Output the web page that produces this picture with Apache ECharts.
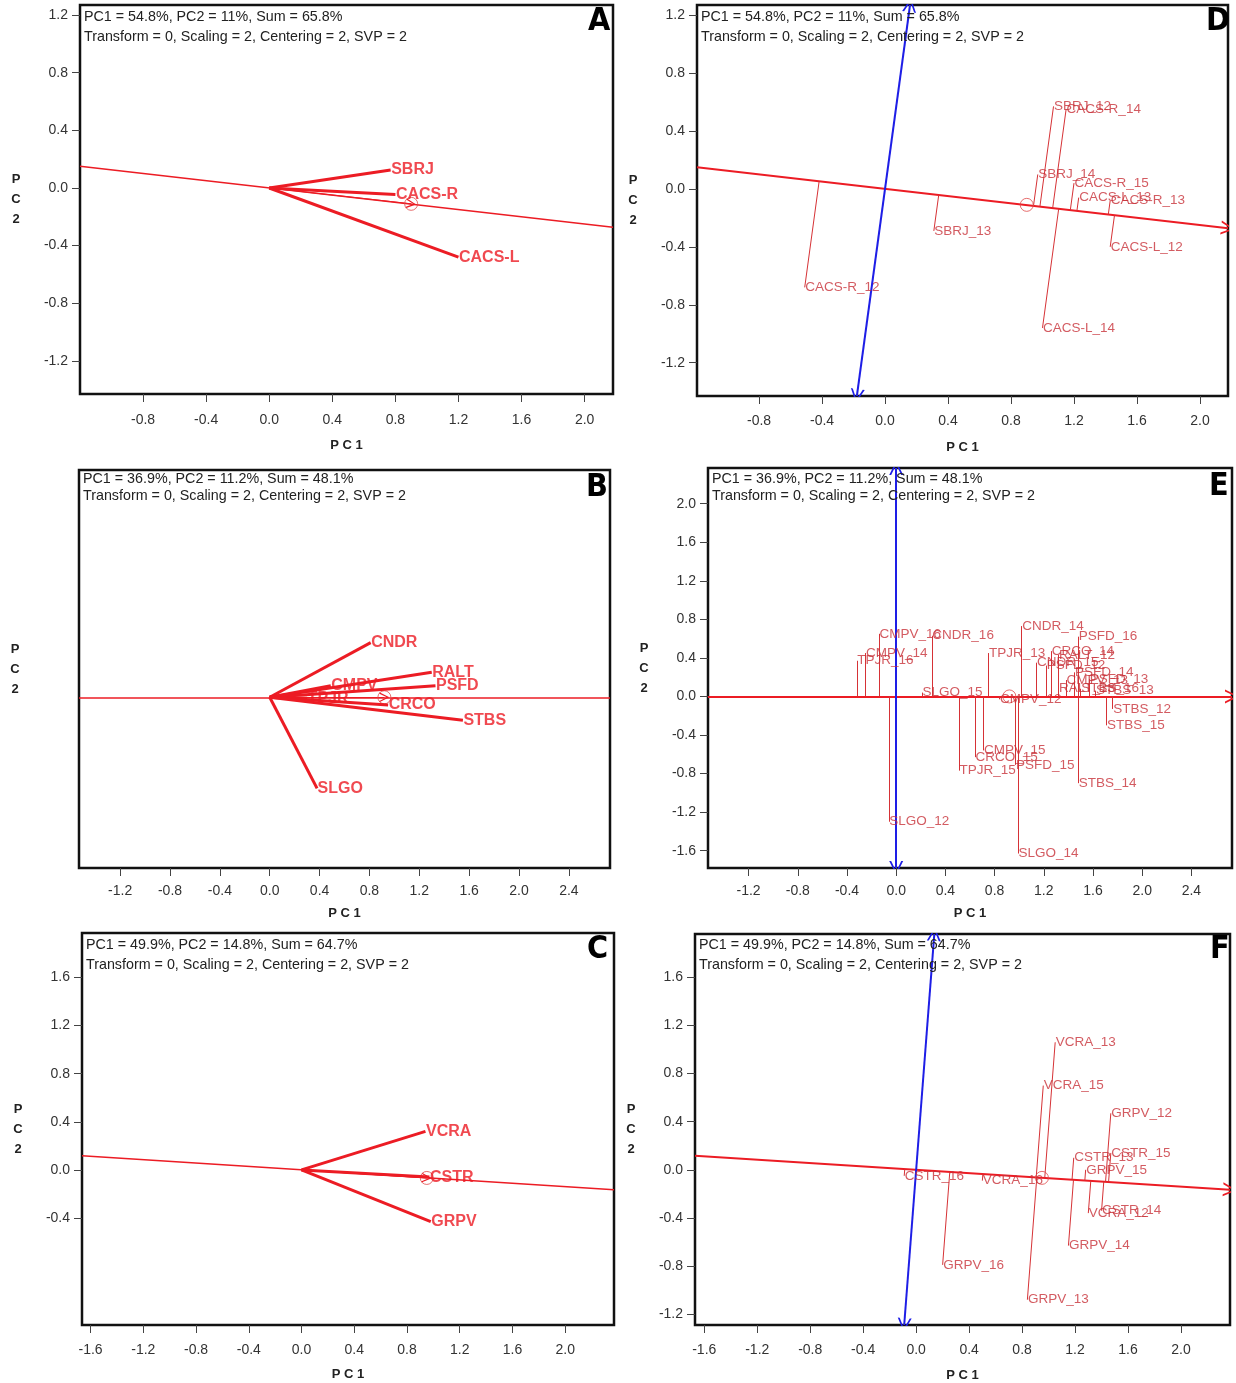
<!DOCTYPE html>
<html><head><meta charset="utf-8">
<script src="https://cdn.jsdelivr.net/npm/echarts@6/dist/echarts.min.js"></script>
<style>html,body{margin:0;padding:0;background:#fff}#c{width:1236px;height:1383px}</style>
</head><body><div id="c"></div><script>
// ---------- DATA ----------
const headerA = ['PC1 = 54.8%, PC2 = 11%, Sum = 65.8%', 'Transform = 0, Scaling = 2, Centering = 2, SVP = 2'];
const headerB = ['PC1 = 36.9%, PC2 = 11.2%, Sum = 48.1%', 'Transform = 0, Scaling = 2, Centering = 2, SVP = 2'];
const headerC = ['PC1 = 49.9%, PC2 = 14.8%, Sum = 64.7%', 'Transform = 0, Scaling = 2, Centering = 2, SVP = 2'];
const panelLetters = ['A', 'B', 'C', 'D', 'E', 'F'];

const xTicksAD = [-0.8, -0.4, 0, 0.4, 0.8, 1.2, 1.6, 2.0];
const yTicksAD = [-1.2, -0.8, -0.4, 0, 0.4, 0.8, 1.2];
const xTicksBE = [-1.2, -0.8, -0.4, 0, 0.4, 0.8, 1.2, 1.6, 2.0, 2.4];
const yTicksB = [];
const yTicksE = [-1.6, -1.2, -0.8, -0.4, 0, 0.4, 0.8, 1.2, 1.6, 2.0];
const xTicksCF = [-1.6, -1.2, -0.8, -0.4, 0, 0.4, 0.8, 1.2, 1.6, 2.0];
const yTicksC = [-0.4, 0, 0.4, 0.8, 1.2, 1.6];
const yTicksF = [-1.2, -0.8, -0.4, 0, 0.4, 0.8, 1.2, 1.6];

// average-environment axis slopes and mean markers
const aecSlopeAD = -0.125, aecSlopeBE = 0, aecSlopeCF = -0.07;
const meanAD = [0.90, -0.11];
const meanBE = [0.92, 0.0];
const meanCF = [0.95, -0.067];

// trait vectors
const traitsA = ['SBRJ', 'CACS-R', 'CACS-L'];
const traitsA_pc1 = [0.77, 0.80, 1.20];
const traitsA_pc2 = [0.125, -0.045, -0.48];

const traitsB = ['CNDR', 'RALT', 'PSFD', 'CMPV', 'TPJR', 'CRCO', 'STBS', 'SLGO'];
const traitsB_pc1 = [0.81, 1.30, 1.33, 0.49, 0.30, 0.95, 1.55, 0.38];
const traitsB_pc2 = [0.57, 0.26, 0.12, 0.12, -0.01, -0.08, -0.24, -0.95];

const traitsC = ['VCRA', 'CSTR', 'GRPV'];
const traitsC_pc1 = [0.94, 0.97, 0.98];
const traitsC_pc2 = [0.32, -0.06, -0.43];

// trait x year points
const pointsD = ['SBRJ_12', 'CACS-R_14', 'SBRJ_14', 'CACS-R_15', 'CACS-L_13', 'CACS-R_13', 'CACS-L_12', 'SBRJ_13', 'CACS-R_12', 'CACS-L_14'];
const pointsD_pc1 = [1.07, 1.15, 0.97, 1.20, 1.23, 1.43, 1.43, 0.31, -0.51, 1.00];
const pointsD_pc2 = [0.57, 0.55, 0.10, 0.04, -0.06, -0.08, -0.40, -0.29, -0.68, -0.96];

const pointsE = ['CMPV_16', 'CNDR_16', 'CMPV_14', 'TPJR_16', 'SLGO_15', 'TPJR_13', 'CNDR_14', 'PSFD_16', 'CRCO_14', 'RALT_12', 'CNDR_15', 'PSFD_12', 'PSFD_14', 'CMPV_13', 'PSFD_13', 'RALT_13', 'STBS_16', 'STBS_13', 'CMPV_12', 'STBS_12', 'STBS_15', 'CMPV_15', 'CRCO_15', 'PSFD_15', 'TPJR_15', 'STBS_14', 'SLGO_12', 'SLGO_14'];
const pointsE_pc1 = [-0.14, 0.29, -0.25, -0.32, 0.21, 0.75, 1.02, 1.48, 1.26, 1.32, 1.14, 1.22, 1.45, 1.38, 1.57, 1.32, 1.50, 1.62, 0.84, 1.76, 1.71, 0.71, 0.64, 0.97, 0.51, 1.48, -0.06, 0.99];
const pointsE_pc2 = [0.65, 0.63, 0.45, 0.37, 0.04, 0.45, 0.73, 0.62, 0.47, 0.43, 0.35, 0.32, 0.25, 0.17, 0.18, 0.08, 0.08, 0.06, -0.03, -0.13, -0.30, -0.56, -0.63, -0.71, -0.77, -0.90, -1.30, -1.63];

const pointsF = ['VCRA_13', 'VCRA_15', 'GRPV_12', 'CSTR_15', 'CSTR_13', 'GRPV_15', 'CSTR_16', 'VCRA_16', 'VCRA_12', 'CSTR_14', 'GRPV_14', 'GRPV_16', 'GRPV_13'];
const pointsF_pc1 = [1.05, 0.96, 1.47, 1.47, 1.19, 1.28, -0.09, 0.50, 1.30, 1.40, 1.15, 0.20, 0.84];
const pointsF_pc2 = [1.06, 0.70, 0.47, 0.14, 0.10, 0.00, -0.05, -0.09, -0.36, -0.34, -0.63, -0.79, -1.08];

// ---------- LAYOUT ----------
const RED = '#ec1c24', RED2 = '#d63236', TXT = '#c8323a', BLUE = '#1e1ee6';
const CHEV = 'path://M50,0 L100,100 L86,100 L50,26 L14,100 L0,100 Z';
const FONT = 'Liberation Sans';
const LETTER_FONT = 'bold 32px "DejaVu Sans Condensed", "Liberation Sans Narrow", "DejaVu Sans", sans-serif';

const panels = [
  {letter: panelLetters[0], kind: 'vec', grid: {left: 80, top: 5, width: 533, height: 389}, xr: [-1.2, 2.18], yr: [-1.43, 1.27], xt: xTicksAD, yt: yTicksAD, s: aecSlopeAD, mean: meanAD, names: traitsA, px: traitsA_pc1, py: traitsA_pc2, header: headerA, hx: 84, hy: 10, hg: 20, lx: 588, ly: 6, lm: 19, ng: 45},
  {letter: panelLetters[1], kind: 'vec', grid: {left: 79, top: 470, width: 531, height: 398}, xr: [-1.53, 2.73], yr: [-1.78, 2.37], xt: xTicksBE, yt: yTicksB, s: aecSlopeBE, mean: meanBE, names: traitsB, px: traitsB_pc1, py: traitsB_pc2, header: headerB, hx: 83, hy: 472, hg: 17, lx: 586, ly: 472, lm: 16, ng: 39},
  {letter: panelLetters[2], kind: 'vec', grid: {left: 82, top: 933, width: 532, height: 392}, xr: [-1.665, 2.37], yr: [-1.29, 1.97], xt: xTicksCF, yt: yTicksC, s: aecSlopeCF, mean: meanCF, names: traitsC, px: traitsC_pc1, py: traitsC_pc2, header: headerC, hx: 86, hy: 938, hg: 20, lx: 587, ly: 934, lm: 18, ng: 43},
  {letter: panelLetters[3], kind: 'proj', grid: {left: 697, top: 5, width: 531, height: 391}, xr: [-1.194, 2.178], yr: [-1.43, 1.27], xt: xTicksAD, yt: yTicksAD, s: aecSlopeAD, mean: meanAD, names: pointsD, px: pointsD_pc1, py: pointsD_pc2, header: headerA, hx: 701, hy: 10, hg: 20, lx: 1206, ly: 6, lm: 18, ng: 45},
  {letter: panelLetters[4], kind: 'proj', grid: {left: 708, top: 468, width: 524, height: 400}, xr: [-1.53, 2.73], yr: [-1.78, 2.37], xt: xTicksBE, yt: yTicksE, s: aecSlopeBE, mean: meanBE, names: pointsE, px: pointsE_pc1, py: pointsE_pc2, header: headerB, hx: 712, hy: 472, hg: 17, lx: 1209, ly: 471, lm: 16, ng: 39},
  {letter: panelLetters[5], kind: 'proj', grid: {left: 695, top: 934, width: 535, height: 393}, xr: [-1.67, 2.37], yr: [-1.29, 1.96], xt: xTicksCF, yt: yTicksF, s: aecSlopeCF, mean: meanCF, names: pointsF, px: pointsF_pc1, py: pointsF_pc2, header: headerC, hx: 699, hy: 938, hg: 20, lx: 1210, ly: 934, lm: 18, ng: 44}
];

const fmt = v => (Math.abs(v) < 1e-9 ? '0.0' : Number(v).toFixed(1));
function foot(x, y, s) { const t = (x + s * y) / (1 + s * s); return [t, s * t]; }

const grids = [], xAxes = [], yAxes = [], series = [], graphics = [];

panels.forEach((p, i) => {
  grids.push(Object.assign({show: true, borderColor: '#111', borderWidth: 2.5, backgroundColor: 'transparent', containLabel: false}, p.grid));
  xAxes.push({
    gridIndex: i, type: 'value', min: p.xr[0], max: p.xr[1],
    axisLine: {show: false, onZero: false}, splitLine: {show: false},
    axisTick: {show: true, length: 8, lineStyle: {color: '#444', width: 1}, customValues: p.xt},
    axisLabel: {customValues: p.xt, formatter: fmt, color: '#333', fontSize: 14, fontFamily: FONT, margin: p.lm},
    name: 'P C 1', nameLocation: 'middle', nameGap: p.ng,
    nameTextStyle: {fontWeight: 'bold', fontSize: 13, color: '#222', fontFamily: FONT}
  });
  yAxes.push({
    gridIndex: i, type: 'value', min: p.yr[0], max: p.yr[1],
    axisLine: {show: false, onZero: false}, splitLine: {show: false},
    axisTick: {show: p.yt.length > 0, length: 8, lineStyle: {color: '#444', width: 1}, customValues: p.yt},
    axisLabel: {show: p.yt.length > 0, customValues: p.yt, formatter: fmt, color: '#333', fontSize: 14, fontFamily: FONT, margin: 12},
    name: 'P\nC\n2', nameLocation: 'middle', nameGap: 64, nameRotate: 0,
    nameTextStyle: {fontWeight: 'bold', fontSize: 13, color: '#222', fontFamily: FONT, align: 'center', lineHeight: 20}
  });

  const base = {coordinateSystem: 'cartesian2d', xAxisIndex: i, yAxisIndex: i, silent: true, animation: false};
  const s = p.s;
  // average environment axis
  series.push(Object.assign({}, base, {
    type: 'lines', z: 3,
    symbol: p.kind === 'proj' ? ['none', CHEV] : ['none', 'none'], symbolSize: 14,
    lineStyle: {color: RED, width: p.kind === 'proj' ? 2 : 1.5, opacity: 1},
    data: [{coords: [[p.xr[0], s * p.xr[0]], [p.xr[1], s * p.xr[1]]]}]
  }));
  // mean marker
  series.push(Object.assign({}, base, {
    type: 'scatter', z: 4, symbol: 'circle', symbolSize: 13,
    itemStyle: {color: 'rgba(0,0,0,0)', borderColor: '#e04a4a', borderWidth: 1},
    data: [p.mean]
  }));
  if (p.kind === 'vec') {
    series.push(Object.assign({}, base, {
      type: 'lines', z: 3, symbol: ['none', CHEV], symbolSize: 10,
      lineStyle: {color: RED, width: 1, opacity: 1},
      data: [{coords: [[0, 0], p.mean]}]
    }));
    series.push(Object.assign({}, base, {
      type: 'lines', z: 5, symbol: 'none',
      lineStyle: {color: RED, width: 3, opacity: 1},
      data: p.names.map((n, k) => ({coords: [[0, 0], [p.px[k], p.py[k]]]}))
    }));
    series.push(Object.assign({}, base, {
      type: 'scatter', z: 6, symbolSize: 1, itemStyle: {color: 'rgba(0,0,0,0)'},
      label: {show: true, position: 'right', distance: 0, formatter: '{b}', color: RED, fontSize: 16, fontWeight: 'bold', fontFamily: FONT},
      data: p.names.map((n, k) => ({name: n, value: [p.px[k], p.py[k]]}))
    }));
  } else {
    // AEC ordinate (perpendicular through origin)
    series.push(Object.assign({}, base, {
      type: 'lines', z: 4, symbol: [CHEV, CHEV], symbolSize: 14,
      lineStyle: {color: BLUE, width: 2, opacity: 1},
      data: [{coords: [[-s * p.yr[0], p.yr[0]], [-s * p.yr[1], p.yr[1]]]}]
    }));
    series.push(Object.assign({}, base, {
      type: 'lines', z: 3, symbol: 'none',
      lineStyle: {color: RED2, width: 1, opacity: 1},
      data: p.names.map((n, k) => ({coords: [[p.px[k], p.py[k]], foot(p.px[k], p.py[k], s)]}))
    }));
    series.push(Object.assign({}, base, {
      type: 'scatter', z: 6, symbolSize: 1, itemStyle: {color: 'rgba(0,0,0,0)'},
      label: {show: true, position: 'right', distance: 0, formatter: '{b}', color: TXT, fontSize: 13.5, fontFamily: FONT},
      data: p.names.map((n, k) => ({name: n, value: [p.px[k], p.py[k]]}))
    }));
  }
  // header text
  p.header.forEach((t, k) => graphics.push({type: 'text', left: p.hx, top: p.hy + k * p.hg, z: 10,
    style: {text: t, font: '14.3px "' + FONT + '"', fill: '#222'}}));
  graphics.push({type: 'text', left: p.lx, top: p.ly, z: 10,
    style: {text: p.letter, font: LETTER_FONT, fill: '#000'}});
});

const chart = echarts.init(document.getElementById('c'), null, {renderer: 'canvas'});
chart.setOption({animation: false, backgroundColor: '#fff', grid: grids, xAxis: xAxes, yAxis: yAxes, series: series, graphic: graphics});
</script></body></html>
